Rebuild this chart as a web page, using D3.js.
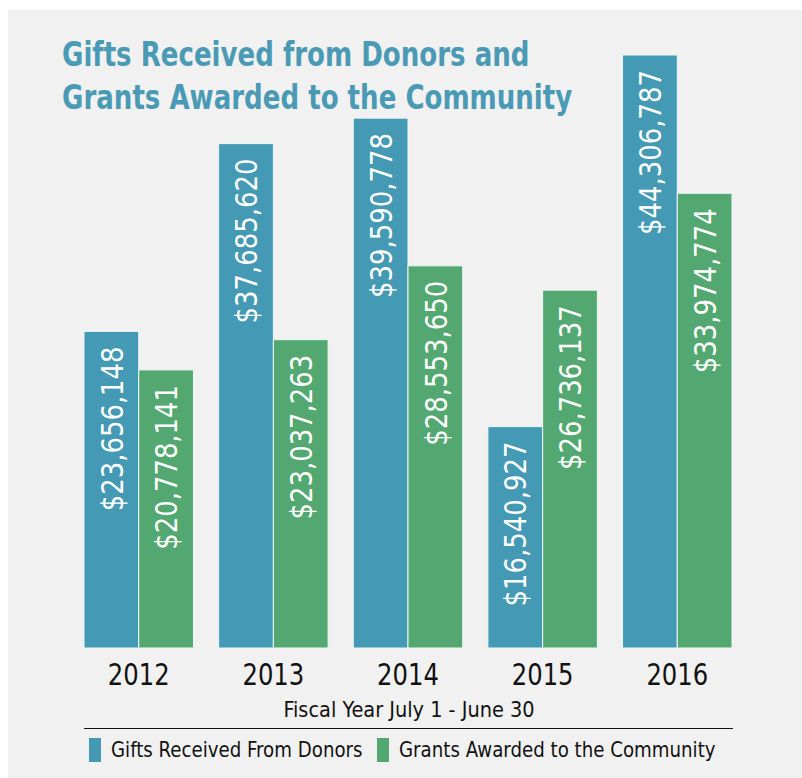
<!DOCTYPE html>
<html>
<head>
<meta charset="utf-8">
<script src="https://cdn.jsdelivr.net/npm/d3@7"></script>
<style>
  body { margin: 0; background: #fff; }
  svg { display: block; }
</style>
</head>
<body>
<div id="canvas"></div>
<script>
const years = ["2012", "2013", "2014", "2015", "2016"];
const gifts = [23656148, 37685620, 39590778, 16540927, 44306787];
const grants = [20778141, 23037263, 28553650, 26736137, 33974774];
const seriesNames = ["Gifts Received From Donors", "Grants Awarded to the Community"];
const seriesColors = ["#4499b4", "#52a870"];

// no narrow face installed, so condensed DejaVu gets squeezed a little more
const narrow = "'DejaVu Sans Condensed', 'DejaVu Sans', sans-serif";

const svg = d3.select("#canvas").append("svg")
    .attr("width", 802)
    .attr("height", 778);

// gray panel
svg.append("rect")
    .attr("x", 8)
    .attr("y", 10)
    .attr("width", 794)
    .attr("height", 768)
    .attr("fill", "#f1f1f1");

const data = years.map((y, i) => ({ year: y, values: [gifts[i], grants[i]] }));

const x0 = d3.scaleBand()
    .domain(years)
    .range([84, 732])
    .paddingInner(0.187)
    .paddingOuter(0);

const x1 = d3.scaleBand()
    .domain([0, 1])
    .range([0, x0.bandwidth()]);

const y = d3.scaleLinear()
    .domain([0, d3.max(gifts)])
    .range([648, 55]);

const fmt = d3.format("$,");

const groups = svg.selectAll("g.year")
    .data(data)
    .enter()
    .append("g")
    .attr("class", "year")
    .attr("transform", d => `translate(${x0(d.year)},0)`);

groups.selectAll("rect")
    .data(d => d.values.map((v, i) => ({ v, i })))
    .enter()
    .append("rect")
    .attr("x", d => x1(d.i))
    .attr("y", d => y(d.v))
    .attr("width", x1.bandwidth())
    .attr("height", d => y(0) - y(d.v))
    .attr("fill", d => seriesColors[d.i])
    .attr("stroke", "#eef7f7")
    .attr("stroke-width", 1);

groups.selectAll("text.val")
    .data(d => d.values.map((v, i) => ({ v, i })))
    .enter()
    .append("text")
    .attr("class", "val")
    .attr("transform", d => `translate(${x1(d.i) + x1.bandwidth() / 2},${y(d.v) + 15}) rotate(-90) scale(0.93,1)`)
    .attr("dy", "0.36em")
    .attr("text-anchor", "end")
    .attr("fill", "white")
    .style("font-family", narrow)
    .style("font-size", "31px")
    .text(d => fmt(d.v));

// year axis
const xAxis = svg.append("g")
    .attr("transform", "translate(0,648)")
    .call(d3.axisBottom(x0).tickSize(0).tickPadding(0));
xAxis.select(".domain").remove();
xAxis.selectAll("text")
    .attr("y", null)
    .attr("dy", null)
    .attr("transform", "translate(0,37) scale(0.9,1)")
    .attr("fill", "#111")
    .style("font-family", narrow)
    .style("font-size", "30px");

// title
const title = svg.append("text")
    .attr("transform", "translate(62,66) scale(0.878,1)")
    .attr("fill", "#4a9ab5")
    .style("font-family", narrow)
    .style("font-size", "33px")
    .style("font-weight", "bold");
title.append("tspan").attr("x", 0).text("Gifts Received from Donors and");
title.append("tspan").attr("x", 0).attr("dy", 43).text("Grants Awarded to the Community");

// subtitle
svg.append("text")
    .attr("x", 409)
    .attr("y", 717)
    .attr("text-anchor", "middle")
    .attr("fill", "#111")
    .style("font-family", narrow)
    .style("font-size", "21.5px")
    .text("Fiscal Year July 1 - June 30");

svg.append("line")
    .attr("x1", 84)
    .attr("x2", 733)
    .attr("y1", 728.5)
    .attr("y2", 728.5)
    .attr("stroke", "#111")
    .attr("stroke-width", 1);

// legend
const legendX = [89, 377];
const legend = svg.selectAll("g.legend")
    .data(seriesNames)
    .enter()
    .append("g")
    .attr("class", "legend")
    .attr("transform", (d, i) => `translate(${legendX[i]},738)`);

legend.append("rect")
    .attr("width", 12)
    .attr("height", 24)
    .attr("fill", (d, i) => seriesColors[i]);

legend.append("text")
    .attr("transform", "translate(22,19) scale(0.92,1)")
    .attr("fill", "#111")
    .style("font-family", narrow)
    .style("font-size", "22px")
    .text(d => d);
</script>
</body>
</html>
